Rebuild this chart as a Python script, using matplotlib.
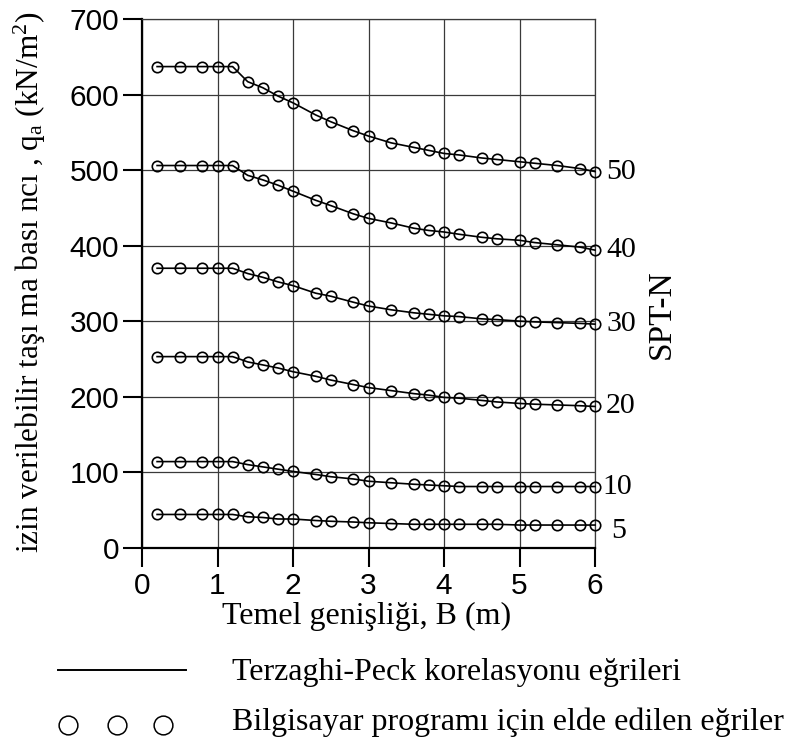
import matplotlib
matplotlib.use("Agg")
import matplotlib.pyplot as plt
from matplotlib.lines import Line2D

# ---- data ----
B = [0.2, 0.5, 0.8, 1.0, 1.2, 1.4, 1.6, 1.8, 2.0, 2.3, 2.5, 2.8, 3.0,
     3.3, 3.6, 3.8, 4.0, 4.2, 4.5, 4.7, 5.0, 5.2, 5.5, 5.8, 6.0]
q_N50 = [637, 637, 637, 637, 637, 617, 609, 598, 589, 573, 564, 552, 545,
         536, 530, 526, 522, 520, 516, 514, 511, 509, 506, 502, 498]
q_N40 = [506, 506, 506, 506, 506, 493, 487, 480, 472, 460, 453, 442, 436,
         430, 423, 420, 418, 415, 411, 409, 407, 404, 401, 398, 394]
q_N30 = [370, 370, 370, 370, 370, 363, 358, 352, 347, 337, 333, 325, 320,
         315, 311, 309, 307, 306, 303, 302, 300, 299, 298, 297, 296]
q_N20 = [253, 253, 253, 253, 253, 246, 242, 238, 233, 227, 222, 216, 212,
         208, 204, 202, 199, 198, 195, 193, 191, 190, 189, 188, 187]
q_N10 = [114, 114, 114, 114, 114, 110, 107, 104, 101, 97, 94, 91, 88,
         86, 84, 83, 82, 81, 81, 81, 81, 81, 81, 81, 81]
q_N5 = [44, 44, 44, 44, 44, 41, 40, 38, 38, 36, 35, 34, 33,
        32, 31, 31, 31, 31, 31, 31, 30, 30, 30, 30, 30]
series = [q_N5, q_N10, q_N20, q_N30, q_N40, q_N50]
spt_labels = ["5", "10", "20", "30", "40", "50"]
x_ticks = [0, 1, 2, 3, 4, 5, 6]
y_ticks = [0, 100, 200, 300, 400, 500, 600, 700]

# ---- style ----
SERIF = "Liberation Serif"
SANS = "Liberation Sans"
plt.rcParams["font.family"] = [SANS, "DejaVu Sans"]
plt.rcParams["mathtext.fontset"] = "custom"
plt.rcParams["mathtext.rm"] = SANS
plt.rcParams["mathtext.default"] = "regular"

W, H = 786, 745
fig = plt.figure(figsize=(W / 100, H / 100), dpi=100)
ax = fig.add_axes([142 / W, 1 - 547.7 / H, (595 - 142) / W, (547.7 - 19) / H])

for q in series:
    ax.plot(B, q, color="black", lw=1.2, marker="o", markersize=7.5,
            markerfacecolor="none", markeredgecolor="black",
            markeredgewidth=1.2, clip_on=False, zorder=3)

# SPT-N labels at right end
offsets = [(12, -4), (5, 0), (8, 0), (8, 0), (8, 0), (8, 0)]
for q, lab, off in zip(series, spt_labels, offsets):
    ax.annotate(lab, xy=(B[-1], q[-1]), xytext=off, textcoords="offset points",
                ha="left", va="center", fontsize=21.5, family=SERIF,
                annotation_clip=False)

ax.set_xlim(0, 6)
ax.set_ylim(0, 700)
ax.set_xticks(x_ticks)
ax.set_yticks(y_ticks)
ax.tick_params(axis="both", direction="out", length=13.5, width=1.5,
               labelsize=21.5, color="black")
ax.tick_params(axis="x", pad=4)
ax.tick_params(axis="y", pad=3)
ax.grid(True, color="#3a3a3a", lw=0.9)
ax.set_axisbelow(True)
for s in ["left", "bottom"]:
    ax.spines[s].set_linewidth(1.6)
    ax.spines[s].set_color("black")
for s in ["top", "right"]:
    ax.spines[s].set_linewidth(0.9)
    ax.spines[s].set_color("#3a3a3a")

# axis titles
fig.text(367 / W, 1 - 624 / H, "Temel genişliği, B (m)", ha="center",
         va="baseline", fontsize=23, family=SERIF)
fig.text(30 / W, 1 - 282 / H,
         "izin verilebilir taşı ma bası ncı , q$_a$ (kN/m$^2$)",
         ha="center", va="center", rotation=90, fontsize=22.5, family=SERIF)
fig.text(662 / W, 1 - 314 / H, "SPT-N", ha="center", va="center",
         rotation=90, fontsize=24, family=SERIF)

# custom legend
fig.add_artist(Line2D([58 / W, 186 / W], [1 - 670 / H, 1 - 670 / H],
                      transform=fig.transFigure, color="black", lw=1.4))
fig.add_artist(Line2D([68 / W, 117 / W, 163 / W], [1 - 725 / H] * 3,
                      transform=fig.transFigure, ls="none", marker="o",
                      markersize=13.5, markerfacecolor="none",
                      markeredgecolor="black", markeredgewidth=1.1))
fig.text(232 / W, 1 - 680 / H, "Terzaghi-Peck korelasyonu eğrileri",
         ha="left", va="baseline", fontsize=23, family=SERIF)
fig.text(232 / W, 1 - 730 / H, "Bilgisayar programı için elde edilen eğriler",
         ha="left", va="baseline", fontsize=23, family=SERIF)

fig.savefig("out.png", dpi=100)
